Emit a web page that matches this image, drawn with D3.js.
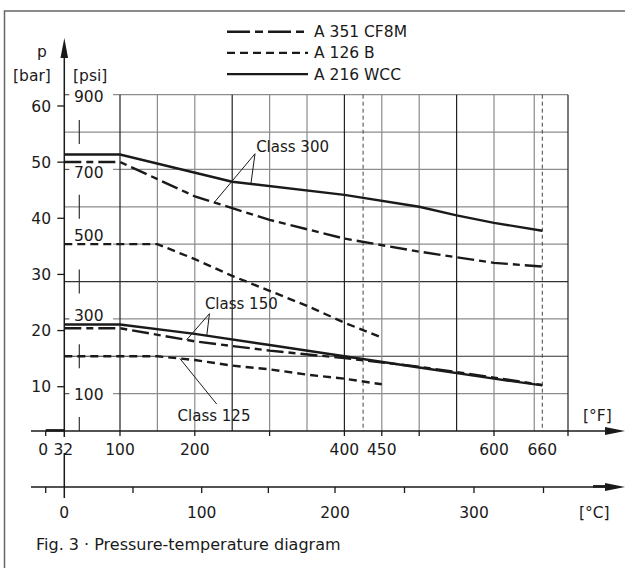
<!DOCTYPE html>
<html>
<head>
<meta charset="utf-8">
<script src="https://cdn.jsdelivr.net/npm/d3@7"></script>
<style>
  body { margin: 0; background: #fff; }
  text { font-family: "DejaVu Sans", sans-serif; fill: #1a1a1a; }
</style>
</head>
<body>
<div id="chart"></div>
<script>

// chart values (temperature in F, pressure in psi)
var wcc300F = [32, 100, 250, 400, 500, 550, 600, 660];
var wcc300Psi = [740, 740, 667, 632, 600, 577, 557, 536];

var cf8m300F = [32, 100, 200, 300, 400, 500, 600, 660];
var cf8m300Psi = [720, 720, 628, 565, 515, 480, 450, 440];

var a126b250F = [32, 150, 200, 250, 300, 350, 400, 450];
var a126b250Psi = [500, 500, 460, 415, 375, 335, 290, 250];

var wcc150F = [32, 100, 200, 300, 400, 500, 600, 660];
var wcc150Psi = [285, 285, 260, 230, 200, 170, 140, 122];

var cf8m150F = [32, 100, 200, 300, 400, 500, 600, 660];
var cf8m150Psi = [275, 275, 240, 215, 195, 172, 143, 123];

var a126b125F = [32, 150, 200, 250, 300, 353, 400, 450];
var a126b125Psi = [200, 200, 190, 175, 165, 150, 140, 125];

// axis ticks and labels
var barTicks = [10, 20, 30, 40, 50, 60];
var psiLabels = [100, 300, 500, 700, 900];
var psiMarks = [0, 200, 400, 600, 800];
var psiGrid = [100, 200, 300, 400, 500, 600, 700, 800, 900];
var fGrid = [100, 150, 200, 250, 300, 350, 400, 450, 500, 550, 600, 650, 700];
var fDark = [100, 250, 400, 550, 700];
var fTicks = [0, 100, 200, 300, 400, 450, 500, 600, 700];
var fLabels = [0, 32, 100, 200, 400, 450, 600, 660];
var fLimits = [425, 660];
var cTicks = [-17.8, 50, 100, 150, 200, 250, 300, 350];
var cLabels = [0, 100, 200, 300];

var legendNames = ['A 351 CF8M', 'A 126 B', 'A 216 WCC'];

var svgWidth = 625;
var svgHeight = 568;

var svg = d3.select('#chart')
    .append('svg')
    .attr('width', svgWidth)
    .attr('height', svgHeight);

// scales (the figure is schematic near the origin, so piecewise)
var xF = d3.scaleLinear()
    .domain([0, 32, 100, 600, 660, 700])
    .range([45.7, 64.3, 120, 494, 542.3, 568]);

var xC = d3.scaleLinear()
    .domain([-17.8, 0, 100, 200, 300])
    .range([45.7, 64.3, 201.7, 335, 474]);

var yPsi = d3.scaleLinear()
    .domain([0, 900])
    .range([431, 94.7]);

var yBar = d3.scaleLinear()
    .domain([10, 60])
    .range([386.7, 106]);

var axisX = xF(32);
var fAxisY = yPsi(0);
var cAxisY = 487;
var gridRight = xF(700);

// psi labels sit a little off their grid lines in the figure
var psiLabelShift = { 100: 0.5, 300: -4, 500: -9, 700: 3, 900: 1 };

var dashStyle = {
    cf8m: '17,5,7,5',
    a126b: '8,5',
    wcc: null
};

// frame
svg.append('path')
    .attr('d', `M4.5,${svgHeight} V11 H${svgWidth}`)
    .attr('fill', 'none')
    .attr('stroke', '#666')
    .attr('stroke-width', 1.5);

// grid
var grid = svg.append('g');

grid.selectAll('.hgrid')
    .data(psiGrid)
    .enter()
    .append('line')
    .attr('x1', d => psiLabels.indexOf(d) >= 0 ? 113 : axisX)
    .attr('x2', gridRight)
    .attr('y1', d => yPsi(d))
    .attr('y2', d => yPsi(d))
    .attr('stroke', d => (d == 200 || d == 400) ? '#333' : '#8c8c8c')
    .attr('stroke-width', 1.2);

// stubs before the psi labels
grid.selectAll('.stub')
    .data(psiLabels)
    .enter()
    .append('line')
    .attr('x1', axisX)
    .attr('x2', axisX + 5)
    .attr('y1', d => yPsi(d))
    .attr('y2', d => yPsi(d))
    .attr('stroke', '#555')
    .attr('stroke-width', 1.2);

grid.selectAll('.vgrid')
    .data(fGrid)
    .enter()
    .append('line')
    .attr('x1', d => xF(d))
    .attr('x2', d => xF(d))
    .attr('y1', yPsi(900))
    .attr('y2', fAxisY)
    .attr('stroke', d => fDark.indexOf(d) >= 0 ? '#222' : '#8c8c8c')
    .attr('stroke-width', 1.2);

grid.selectAll('.limit')
    .data(fLimits)
    .enter()
    .append('line')
    .attr('x1', d => xF(d))
    .attr('x2', d => xF(d))
    .attr('y1', yPsi(900))
    .attr('y2', fAxisY)
    .attr('stroke', '#444')
    .attr('stroke-width', 1)
    .attr('stroke-dasharray', '4,3');

// psi scale marks
grid.selectAll('.psimark')
    .data(psiMarks)
    .enter()
    .append('line')
    .attr('x1', 79.3)
    .attr('x2', 79.3)
    .attr('y1', d => d == 0 ? yPsi(d) - 14 : yPsi(d) - 12)
    .attr('y2', d => d == 0 ? yPsi(d) : yPsi(d) + 12)
    .attr('stroke', '#333')
    .attr('stroke-width', 1.2);

// curves
var line = d3.line()
    .x(d => xF(d[0]))
    .y(d => yPsi(d[1]));

function pairs(f, p) {
    return f.map((v, i) => [v, p[i]]);
}

var curves = [
    { f: a126b250F, p: a126b250Psi, style: 'a126b' },
    { f: a126b125F, p: a126b125Psi, style: 'a126b' },
    { f: cf8m300F, p: cf8m300Psi, style: 'cf8m' },
    { f: cf8m150F, p: cf8m150Psi, style: 'cf8m' },
    { f: wcc300F, p: wcc300Psi, style: 'wcc' },
    { f: wcc150F, p: wcc150Psi, style: 'wcc' }
];

svg.append('g').selectAll('path')
    .data(curves)
    .enter()
    .append('path')
    .attr('d', d => line(pairs(d.f, d.p)))
    .attr('fill', 'none')
    .attr('stroke', '#1a1a1a')
    .attr('stroke-width', 2.4)
    .attr('stroke-dasharray', d => dashStyle[d.style]);

// value of a curve at a given temperature, for the leader lines
function at(f, p, t) {
    return d3.scaleLinear().domain(f).range(p)(t);
}

var notes = svg.append('g');

function classLabel(txt, tx, ty, ox, oy, targets) {
    notes.append('text')
        .attr('x', xF(tx))
        .attr('y', yPsi(ty))
        .attr('font-size', '15px')
        .text(txt);
    targets.forEach(function(t) {
        notes.append('line')
            .attr('x1', xF(ox))
            .attr('y1', yPsi(oy))
            .attr('x2', xF(t[0]))
            .attr('y2', yPsi(at(t[1], t[2], t[0])))
            .attr('stroke', '#1a1a1a')
            .attr('stroke-width', 1);
    });
}

classLabel('Class 300', 282, 747, 280.5, 742,
    [[226, cf8m300F, cf8m300Psi], [275, wcc300F, wcc300Psi]]);
classLabel('Class 150', 213.5, 327, 219.6, 314,
    [[189, cf8m150F, cf8m150Psi], [216, wcc150F, wcc150Psi]]);
classLabel('Class 125', 177, 28, 229.3, 72,
    [[180, a126b125F, a126b125Psi]]);

// y axis
var yAxisG = svg.append('g');

yAxisG.append('path')
    .attr('d', `M${axisX},56 V${fAxisY + 6} M${axisX},${fAxisY + 22} V498`)
    .attr('stroke', '#1a1a1a')
    .attr('stroke-width', 1.5);

yAxisG.append('path')
    .attr('d', `M${axisX},38 L${axisX - 3.8},58 L${axisX + 3.8},58 Z`)
    .attr('fill', '#1a1a1a');

yAxisG.selectAll('.bartick')
    .data(barTicks)
    .enter()
    .append('line')
    .attr('x1', axisX - 7)
    .attr('x2', axisX)
    .attr('y1', d => yBar(d))
    .attr('y2', d => yBar(d))
    .attr('stroke', '#1a1a1a')
    .attr('stroke-width', 1.3);

yAxisG.selectAll('.barlabel')
    .data(barTicks)
    .enter()
    .append('text')
    .attr('x', 51)
    .attr('y', d => yBar(d) + 5.5)
    .attr('text-anchor', 'end')
    .attr('font-size', '15.5px')
    .text(d => d);

yAxisG.selectAll('.psilabel')
    .data(psiLabels)
    .enter()
    .append('text')
    .attr('x', 74)
    .attr('y', d => yPsi(d) + 6 + psiLabelShift[d])
    .attr('font-size', '15.5px')
    .text(d => d);

yAxisG.append('text').attr('x', 37).attr('y', 57).attr('font-size', '15.5px').text('p');
yAxisG.append('text').attr('x', 13).attr('y', 81).attr('font-size', '15.5px').text('[bar]');
yAxisG.append('text').attr('x', 73).attr('y', 81).attr('font-size', '15.5px').text('[psi]');

// temperature axes
function tempAxis(y, thickFrom, thickTo) {
    var g = svg.append('g');
    g.append('line')
        .attr('x1', 31).attr('x2', 608)
        .attr('y1', y).attr('y2', y)
        .attr('stroke', '#1a1a1a')
        .attr('stroke-width', 1.3);
    g.append('line')
        .attr('x1', thickFrom).attr('x2', thickTo)
        .attr('y1', y - 0.6).attr('y2', y - 0.6)
        .attr('stroke', '#1a1a1a')
        .attr('stroke-width', 2.6);
    g.append('path')
        .attr('d', `M625,${y} L605,${y - 4} L605,${y + 4} Z`)
        .attr('fill', '#1a1a1a');
    return g;
}

var fAxis = tempAxis(fAxisY, xF(0), axisX);

fAxis.selectAll('.ftick')
    .data(fTicks)
    .enter()
    .append('line')
    .attr('x1', d => xF(d)).attr('x2', d => xF(d))
    .attr('y1', fAxisY).attr('y2', fAxisY + 5)
    .attr('stroke', '#1a1a1a')
    .attr('stroke-width', 1.3);

fAxis.selectAll('.flabel')
    .data(fLabels)
    .enter()
    .append('text')
    .attr('x', d => d == 0 ? xF(d) - 2.5 : (d == 32 ? xF(d) - 1 : xF(d)))
    .attr('y', fAxisY + 24)
    .attr('text-anchor', 'middle')
    .attr('font-size', '15.5px')
    .text(d => d);

fAxis.append('text')
    .attr('x', 583).attr('y', fAxisY - 10)
    .attr('font-size', '15.5px')
    .text('[°F]');

var cAxis = tempAxis(cAxisY, 593, 607);

cAxis.selectAll('.ctick')
    .data(cTicks)
    .enter()
    .append('line')
    .attr('x1', d => xC(d)).attr('x2', d => xC(d))
    .attr('y1', cAxisY).attr('y2', cAxisY + 6)
    .attr('stroke', '#1a1a1a')
    .attr('stroke-width', 1.3);

cAxis.selectAll('.clabel')
    .data(cLabels)
    .enter()
    .append('text')
    .attr('x', d => xC(d))
    .attr('y', cAxisY + 31)
    .attr('text-anchor', 'middle')
    .attr('font-size', '15.5px')
    .text(d => d);

cAxis.append('text')
    .attr('x', 579).attr('y', cAxisY + 31)
    .attr('font-size', '15.5px')
    .text('[°C]');

// legend
var legend = svg.append('g');
var legendStyles = ['cf8m', 'a126b', 'wcc'];

legendNames.forEach(function(name, i) {
    var ly = 31.7 + i * 21.2;
    legend.append('line')
        .attr('x1', 227).attr('x2', 308)
        .attr('y1', ly).attr('y2', ly)
        .attr('stroke', '#1a1a1a')
        .attr('stroke-width', 2.4)
        .attr('stroke-dasharray', legendStyles[i] == 'cf8m' ? '23,5,8,5' : dashStyle[legendStyles[i]]);
    legend.append('text')
        .attr('x', 314).attr('y', ly + 5.5)
        .attr('font-size', '15.5px')
        .text(name);
});

// caption
svg.append('text')
    .attr('x', 36).attr('y', 550)
    .attr('font-size', '16px')
    .text('Fig. 3 · Pressure-temperature diagram');

</script>
</body>
</html>
